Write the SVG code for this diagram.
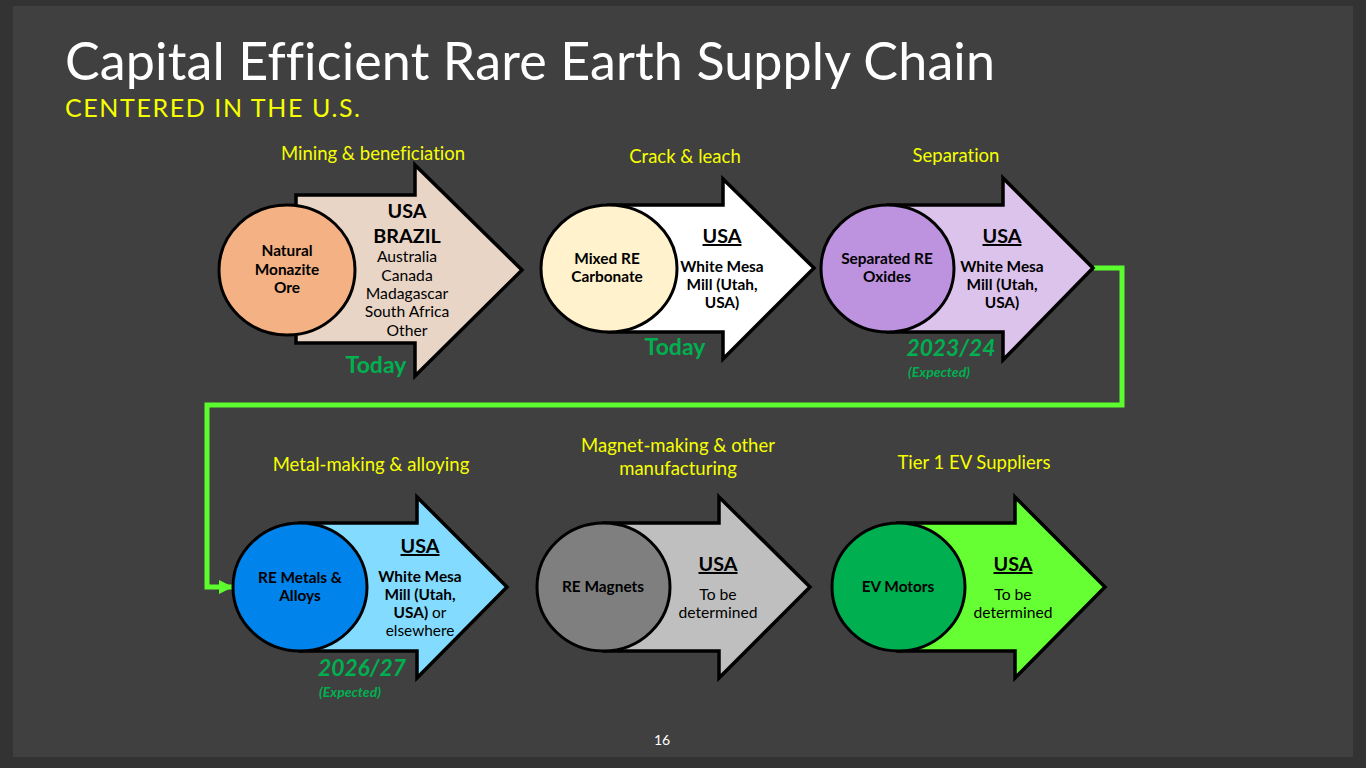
<svg xmlns="http://www.w3.org/2000/svg" width="1366" height="768" viewBox="0 0 1366 768">
<style>
text{font-family:"Lato","Open Sans","Liberation Sans",sans-serif;text-anchor:middle;fill:#000;font-variant-ligatures:none}
.ar{stroke:#000;stroke-width:3.5;stroke-linejoin:miter}
.ci{stroke:#000;stroke-width:3}
.cap{fill:#f6ff00;font-size:18.5px}
.nm{font-size:15.4px;font-weight:700}
.hd{font-size:19.8px;font-weight:700}
.u{text-decoration:underline}
.b{font-size:15.4px;font-weight:700}
.r{font-size:15.7px}
.g{fill:#00b050;font-weight:700}
.dt{font-size:22.8px;font-style:italic}
.ex{font-size:14px;font-style:italic}
.conn{fill:none;stroke:#5dfc2e;stroke-width:5}
</style>
<defs><marker id="ah" markerUnits="userSpaceOnUse" markerWidth="15" markerHeight="15" refX="14" refY="7" orient="auto"><path d="M0 0L14 7L0 14Z" fill="#5dfc2e"/></marker></defs>
<rect width="1366" height="768" fill="#333"/>
<rect x="13" y="6" width="1340" height="751" fill="#404040"/>
<text x="65" y="80" style="text-anchor:start;fill:#fff;font-size:52px" textLength="930">Capital Efficient Rare Earth Supply Chain</text>
<text x="65" y="117" style="text-anchor:start;fill:#f6ff00;font-size:25px" textLength="295">CENTERED IN THE U.S.</text>
<g id="connectors"><path class="conn" d="M1094 268H1122V405H207V587H233" marker-end="url(#ah)"/></g>

<g id="node-ore">
<text class="cap" x="373" y="160">Mining &amp; beneficiation</text>
<path class="ar" fill="#e8d5c6" d="M296 195H415V165L522 270L415 376V343H296Z"/>
<ellipse class="ci" fill="#f4b183" cx="287" cy="270" rx="68" ry="65"/>
<text class="nm"><tspan x="287" y="256">Natural</tspan><tspan x="287" y="275">Monazite</tspan><tspan x="287" y="293">Ore</tspan></text>
<text class="hd" x="407" y="218">USA</text><text class="hd" x="407" y="243">BRAZIL</text>
<text class="r"><tspan x="407" y="262">Australia</tspan><tspan x="407" y="281">Canada</tspan><tspan x="407" y="299">Madagascar</tspan><tspan x="407" y="317">South Africa</tspan><tspan x="407" y="336">Other</tspan></text>
<text class="g" x="376" y="373" font-size="23">Today</text>
</g>

<g id="node-carbonate">
<text class="cap" x="685" y="163">Crack &amp; leach</text>
<path class="ar" fill="#fff" d="M609 205H723V179L814 268L723 359V332H609Z"/>
<ellipse class="ci" fill="#fff2cc" cx="609" cy="268.500" rx="68" ry="63.500"/>
<text class="nm"><tspan x="607" y="264">Mixed RE</tspan><tspan x="607" y="282">Carbonate</tspan></text>
<text class="hd u" x="722" y="243">USA</text>
<text class="b"><tspan x="722" y="272">White Mesa</tspan><tspan x="722" y="290">Mill (Utah,</tspan><tspan x="722" y="308">USA)</tspan></text>
<text class="g" x="675" y="355" font-size="23">Today</text>
</g>

<g id="node-oxides">
<text class="cap" x="956" y="162">Separation</text>
<path class="ar" fill="#dcc3ec" d="M888 205H1003V178L1093 268L1003 360V332H888Z"/>
<ellipse class="ci" fill="#bd92de" cx="887.500" cy="268.500" rx="66.500" ry="63.500"/>
<text class="nm"><tspan x="887" y="264">Separated RE</tspan><tspan x="887" y="282">Oxides</tspan></text>
<text class="hd u" x="1002" y="243">USA</text>
<text class="b"><tspan x="1002" y="272">White Mesa</tspan><tspan x="1002" y="290">Mill (Utah,</tspan><tspan x="1002" y="308">USA)</tspan></text>
<text class="g dt" x="951" y="356">2023/24</text>
<text class="g ex" x="939" y="377">(Expected)</text>
</g>

<g id="node-metals">
<text class="cap" x="371" y="471">Metal-making &amp; alloying</text>
<path class="ar" fill="#83dcff" d="M300 523H417V497L507 587L417 678V651H300Z"/>
<ellipse class="ci" fill="#0083ea" cx="300" cy="587" rx="67" ry="64"/>
<text class="nm"><tspan x="300" y="583">RE Metals &amp;</tspan><tspan x="300" y="601">Alloys</tspan></text>
<text class="hd u" x="420" y="553">USA</text>
<text class="b"><tspan x="420" y="582">White Mesa</tspan><tspan x="420" y="600">Mill (Utah,</tspan><tspan x="420" y="618">USA)<tspan font-weight="400"> or</tspan></tspan><tspan x="420" y="636" font-weight="400">elsewhere</tspan></text>
<text class="g dt" x="362" y="676">2026/27</text>
<text class="g ex" x="350" y="697">(Expected)</text>
</g>

<g id="node-magnets">
<text class="cap"><tspan x="678" y="452">Magnet-making &amp; other</tspan><tspan x="678" y="475">manufacturing</tspan></text>
<path class="ar" fill="#bfbfbf" d="M604 523H719V497L810 587L719 678V651H604Z"/>
<ellipse class="ci" fill="#7f7f7f" cx="603.500" cy="587" rx="66.500" ry="64"/>
<text class="nm" x="603" y="592">RE Magnets</text>
<text class="hd u" x="718" y="571">USA</text>
<text class="r"><tspan x="718" y="600">To be</tspan><tspan x="718" y="618">determined</tspan></text>
</g>

<g id="node-motors">
<text class="cap" x="974" y="469">Tier 1 EV Suppliers</text>
<path class="ar" fill="#66ff33" d="M898 523H1015V497L1105 587L1015 678V651H898Z"/>
<ellipse class="ci" fill="#00b050" cx="898.500" cy="587" rx="66.500" ry="64"/>
<text class="nm" x="898" y="592">EV Motors</text>
<text class="hd u" x="1013" y="571">USA</text>
<text class="r"><tspan x="1013" y="600">To be</tspan><tspan x="1013" y="618">determined</tspan></text>
</g>
<text x="662" y="745" style="fill:#fff;font-size:14px">16</text>
</svg>
